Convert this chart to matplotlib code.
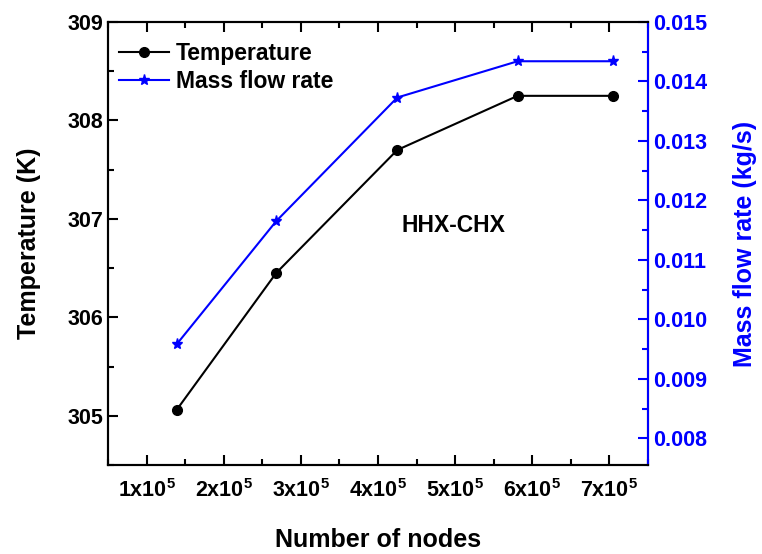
import matplotlib
matplotlib.use('Agg')
import matplotlib.pyplot as plt
from matplotlib.ticker import MultipleLocator, FuncFormatter

# --- data ---
nodes = [1.39e5, 2.68e5, 4.25e5, 5.81e5, 7.04e5]
temperature = [305.06, 306.45, 307.70, 308.25, 308.25]
mass_flow = [0.00958, 0.01165, 0.01373, 0.01434, 0.01434]
annotation = 'HHX-CHX'

plt.rcParams['font.family'] = ['Liberation Sans', 'DejaVu Sans']
plt.rcParams['font.weight'] = 'bold'
plt.rcParams['mathtext.fontset'] = 'custom'
plt.rcParams['mathtext.rm'] = 'Liberation Sans:bold'
plt.rcParams['mathtext.bf'] = 'Liberation Sans:bold'
plt.rcParams['mathtext.default'] = 'bf'

fig = plt.figure(figsize=(7.62, 5.54), dpi=100)
ax = fig.add_axes([108 / 762, 1 - 465 / 554, 540 / 762, 443 / 554])
ax2 = ax.twinx()

l1, = ax.plot(nodes, temperature, color='black', marker='o', markersize=7,
              lw=1.5, label='Temperature')
l2, = ax2.plot(nodes, mass_flow, color='blue', marker='*', markersize=8,
               lw=1.5, label='Mass flow rate')

ax.set_xlim(0.5e5, 7.5e5)
ax.set_ylim(304.5, 309)
ax2.set_ylim(0.00755, 0.015)

ax.xaxis.set_major_locator(MultipleLocator(1e5))
ax.xaxis.set_minor_locator(MultipleLocator(0.5e5))
ax.xaxis.set_major_formatter(FuncFormatter(lambda v, p: r'%dx10$^{5}$' % round(v / 1e5)))
ax.yaxis.set_major_locator(MultipleLocator(1))
ax.yaxis.set_minor_locator(MultipleLocator(0.5))
ax2.yaxis.set_major_locator(MultipleLocator(0.001))
ax2.yaxis.set_minor_locator(MultipleLocator(0.0005))
ax2.yaxis.set_major_formatter(FuncFormatter(lambda v, p: '%.3f' % v))

ax.tick_params(which='both', direction='in', top=True, right=False, labelsize=15.5, width=1.5)
ax.tick_params(which='major', length=7)
ax.tick_params(which='minor', length=4)
ax.tick_params(axis='x', pad=10)
ax2.tick_params(which='both', direction='in', colors='blue', labelsize=15.5, width=1.5)
ax2.tick_params(which='major', length=7)
ax2.tick_params(which='minor', length=4)

for s in ax.spines.values():
    s.set_linewidth(1.5)
for s in ax2.spines.values():
    s.set_linewidth(1.5)
ax2.spines['right'].set_color('blue')

ax.set_xlabel('Number of nodes', fontsize=18, fontweight='bold', labelpad=19)
ax.set_ylabel('Temperature (K)', fontsize=18, fontweight='bold', labelpad=19)
ax2.set_ylabel('Mass flow rate (kg/s)', fontsize=18, fontweight='bold', color='blue', labelpad=19)

ax.text(0.639, 0.54, annotation, transform=ax.transAxes, fontsize=16.5,
        fontweight='bold', ha='center', va='center')

ax.legend(handles=[l1, l2], loc='upper left', bbox_to_anchor=(-0.01, 0.99),
          frameon=False, fontsize=16.5,
          handlelength=2.2, borderaxespad=0.3, labelspacing=0.2, handletextpad=0.3)

fig.savefig('out.png', dpi=100)
